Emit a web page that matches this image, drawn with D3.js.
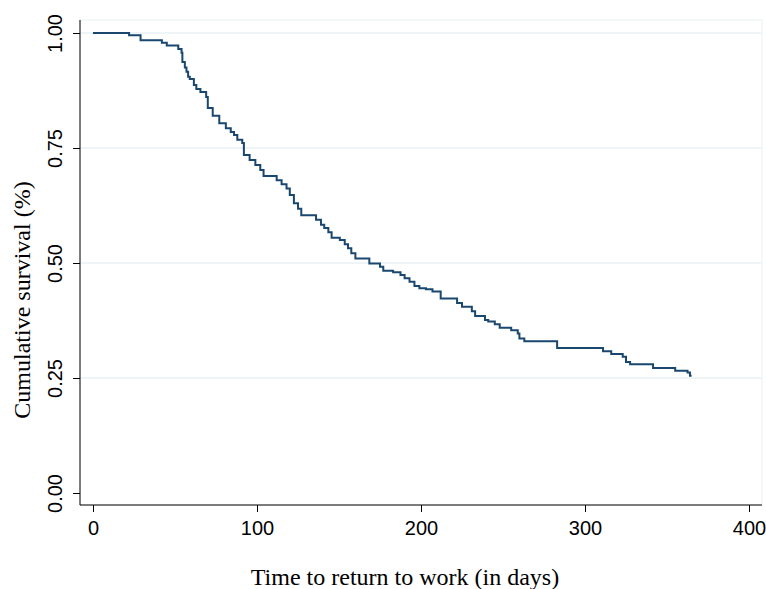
<!DOCTYPE html>
<html lang="en">
<head>
<meta charset="UTF-8">
<title>Kaplan-Meier return to work</title>
<script src="https://d3js.org/d3.v7.min.js"></script>
<style>
  body { margin: 0; background: #fff; }
  .tick text { font-family: "Liberation Sans", Arial, sans-serif; font-size: 20px; fill: #000; }
  .axis-title { font-family: "Liberation Serif", "Times New Roman", serif; font-size: 24px; fill: #000; }
</style>
</head>
<body>
<div id="chart"></div>
<script>
// step curve: day of each drop and survival after it
const days = [0, 22, 29, 42, 45, 52, 54, 54.5, 56, 57, 58, 59, 61.5, 63, 65.5, 69, 70, 73, 77,
  81, 84, 86, 88, 91, 92, 95.5, 99, 102, 104, 112, 115, 118, 120, 122.5, 125, 127, 136, 139,
  141, 143.5, 145.5, 150.5, 153.5, 155.5, 157.5, 160, 168.5, 175, 177, 183, 187.5, 190, 193,
  196, 199, 203, 207, 212, 222, 225, 231, 233, 239, 241, 245, 248, 255, 259, 260, 263, 283,
  311, 316, 323, 325, 327.5, 341.5, 355, 362.5, 364, 365];
const survival = [1.000, 0.995, 0.984, 0.979, 0.973, 0.965, 0.957, 0.937, 0.925, 0.916, 0.905,
  0.900, 0.887, 0.878, 0.872, 0.861, 0.837, 0.820, 0.804, 0.793, 0.785, 0.778, 0.768, 0.761,
  0.735, 0.724, 0.713, 0.702, 0.689, 0.680, 0.671, 0.662, 0.648, 0.630, 0.618, 0.604, 0.594,
  0.583, 0.576, 0.567, 0.555, 0.550, 0.541, 0.532, 0.521, 0.510, 0.499, 0.492, 0.483, 0.480,
  0.474, 0.467, 0.459, 0.450, 0.445, 0.443, 0.438, 0.423, 0.413, 0.405, 0.395, 0.385, 0.376,
  0.373, 0.367, 0.359, 0.354, 0.347, 0.336, 0.330, 0.315, 0.308, 0.302, 0.296, 0.285, 0.280,
  0.272, 0.266, 0.262, 0.255, 0.255];

const xTicks = [0, 100, 200, 300, 400];
const yTicks = [0, 0.25, 0.5, 0.75, 1];
const xTitle = "Time to return to work (in days)";
const yTitle = "Cumulative survival (%)";

const width = 766, height = 589;

const svg = d3.select("#chart")
    .append("svg")
    .attr("width", width)
    .attr("height", height);

const x = d3.scaleLinear().domain([0, 400]).range([93, 749]);
const y = d3.scaleLinear().domain([0, 1]).range([493, 33]);

const plotLeft = 80, plotRight = 762, plotTop = 20, plotBottom = 505;

// plot region outline (light)
svg.append("rect")
    .attr("x", plotLeft)
    .attr("y", plotTop)
    .attr("width", plotRight - plotLeft)
    .attr("height", plotBottom - plotTop)
    .attr("fill", "none")
    .attr("stroke", "#eaf2f3")
    .attr("stroke-width", 1);

// gridlines
svg.append("g")
    .selectAll("line")
    .data(yTicks.filter(d => d > 0))
    .enter()
    .append("line")
    .attr("x1", plotLeft)
    .attr("x2", plotRight)
    .attr("y1", d => y(d))
    .attr("y2", d => y(d))
    .attr("stroke", "#eaf2f3")
    .attr("stroke-width", 1.5);

// axes
const xAxis = d3.axisBottom(x).tickValues(xTicks).tickSize(7).tickPadding(9).tickFormat(d3.format("d"));
const gx = svg.append("g")
    .attr("transform", "translate(0," + plotBottom + ")")
    .call(xAxis);
gx.select(".domain").remove();
gx.append("line")
    .attr("x1", plotLeft).attr("x2", plotRight)
    .attr("stroke", "#000").attr("stroke-width", 1);
gx.selectAll(".tick line").attr("stroke", "#000");

const yAxis = d3.axisLeft(y).tickValues(yTicks).tickSize(7).tickFormat(d3.format(".2f"));
const gy = svg.append("g")
    .attr("transform", "translate(" + plotLeft + ",0)")
    .call(yAxis);
gy.select(".domain").remove();
gy.append("line")
    .attr("y1", plotTop).attr("y2", plotBottom)
    .attr("stroke", "#000").attr("stroke-width", 1);
gy.selectAll(".tick line").attr("stroke", "#000");
gy.selectAll(".tick text")
    .attr("x", 0)
    .attr("dy", null)
    .attr("text-anchor", "middle")
    .attr("transform", "translate(-25,0) rotate(-90)")
    .attr("dominant-baseline", "central");

// survival curve
const line = d3.line()
    .x((d, i) => x(days[i]))
    .y(d => y(d))
    .curve(d3.curveStepAfter);

svg.append("path")
    .datum(survival)
    .attr("fill", "none")
    .attr("stroke", "#1a476f")
    .attr("stroke-width", 2)
    .attr("d", line);

// titles
svg.append("text")
    .attr("class", "axis-title")
    .attr("x", 405)
    .attr("y", 585)
    .attr("text-anchor", "middle")
    .text(xTitle);

svg.append("text")
    .attr("class", "axis-title")
    .attr("transform", "translate(30,300) rotate(-90)")
    .attr("text-anchor", "middle")
    .text(yTitle);
</script>
</body>
</html>
